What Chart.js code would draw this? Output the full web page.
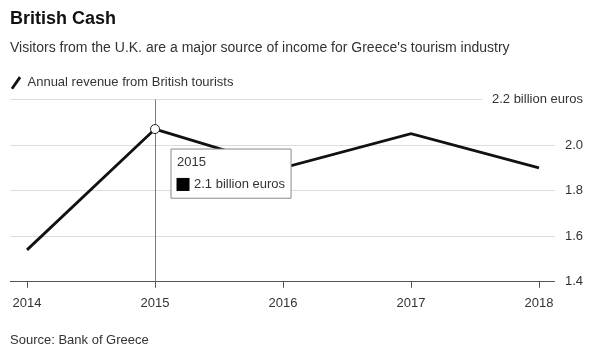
<!DOCTYPE html>
<html>
<head>
<meta charset="utf-8">
<script src="https://cdn.jsdelivr.net/npm/chart.js@4/dist/chart.umd.min.js"></script>
<style>
  html, body { margin: 0; padding: 0; background: #fff; }
  #wrap { width: 600px; height: 351px; }
</style>
</head>
<body>
<div id="wrap"><canvas id="myChart"></canvas></div>
<script>
const years = [2014, 2015, 2016, 2017, 2018];
const revenue = [1.54, 2.07, 1.90, 2.05, 1.90];
const yTicks = [1.4, 1.6, 1.8, 2.0, 2.2];
const seriesLabel = 'Annual revenue from British tourists';
const unitLabel = 'billion euros';
const highlightIndex = 1;

const FONT = "'Liberation Sans', Arial, sans-serif";
const TEXT = '#333';

// tooltip sits below and to the right of the hovered point, no caret
Chart.Tooltip.positioners.belowRight = function (items) {
    if (!items.length) return false;
    const el = items[0].element;
    return { x: el.x + 16, y: el.y + 20, xAlign: 'left', yAlign: 'top' };
};

// vertical hover line
const hoverLine = {
    id: 'hoverLine',
    beforeDatasetsDraw: (chart) => {
        const active = chart.tooltip.getActiveElements();
        if (!active.length) return;
        const { ctx, chartArea: { top, bottom } } = chart;
        const x = Math.round(active[0].element.x) + 0.5;
        ctx.save();
        ctx.strokeStyle = '#7a7a7a';
        ctx.lineWidth = 1;
        ctx.beginPath();
        ctx.moveTo(x, top);
        ctx.lineTo(x, bottom);
        ctx.stroke();
        ctx.restore();
    }
};

const ctx = document.getElementById('myChart');

const chart = new Chart(ctx, {
    type: 'line',
    data: {
        datasets: [{
            label: seriesLabel,
            data: years.map((y, i) => ({ x: y, y: revenue[i] })),
            borderColor: '#111',
            backgroundColor: '#111',
            borderWidth: 2.8,
            pointRadius: 0,
            pointRotation: -55,
            pointHoverRadius: 4.5,
            pointHoverBorderWidth: 1,
            pointHoverBackgroundColor: '#fff',
            pointHoverBorderColor: '#222',
            tension: 0
        }]
    },
    options: {
        responsive: true,
        maintainAspectRatio: false,
        animation: false,
        events: [],
        layout: { padding: { left: 10, right: 17, top: 0, bottom: 3 } },
        scales: {
            x: {
                type: 'linear',
                min: years[0] - 0.133,
                max: years[years.length - 1] + 0.125,
                afterBuildTicks: (axis) => {
                    axis.ticks = years.map(v => ({ value: v }));
                },
                grid: {
                    drawOnChartArea: false,
                    drawTicks: true,
                    tickLength: 6,
                    color: '#555'
                },
                border: { display: true, color: '#555', width: 1 },
                ticks: {
                    color: TEXT,
                    font: { family: FONT, size: 13 },
                    padding: 8,
                    maxRotation: 0,
                    callback: (v) => String(v)
                },
                title: {
                    display: true,
                    text: 'Source: Bank of Greece',
                    align: 'start',
                    color: TEXT,
                    font: { family: FONT, size: 13 },
                    padding: { top: 13, bottom: 0 }
                }
            },
            y: {
                position: 'right',
                min: yTicks[0],
                max: yTicks[yTicks.length - 1],
                afterBuildTicks: (axis) => {
                    axis.ticks = yTicks.map(v => ({ value: v }));
                },
                afterFit: (scale) => { scale.width = 28; },
                grid: { color: '#ddd', drawTicks: false },
                border: { display: false },
                ticks: {
                    color: TEXT,
                    font: { family: FONT, size: 13 },
                    mirror: true,
                    crossAlign: 'near',
                    padding: 28,
                    showLabelBackdrop: true,
                    backdropColor: '#fff',
                    backdropPadding: { left: 10, right: 0, top: 1, bottom: 1 },
                    callback: (v) => Math.abs(v - yTicks[yTicks.length - 1]) < 1e-6
                        ? v.toFixed(1) + ' ' + unitLabel
                        : v.toFixed(1)
                }
            }
        },
        plugins: {
            title: {
                display: true,
                text: 'British Cash',
                align: 'start',
                color: '#111',
                font: { family: FONT, size: 18, weight: 'bold' },
                padding: { top: 8, bottom: 4 }
            },
            subtitle: {
                display: true,
                text: "Visitors from the U.K. are a major source of income for Greece's tourism industry",
                align: 'start',
                color: TEXT,
                font: { family: FONT, size: 14 },
                padding: { top: 6, bottom: 19 }
            },
            legend: {
                display: true,
                align: 'start',
                labels: {
                    color: TEXT,
                    font: { family: FONT, size: 13 },
                    usePointStyle: true,
                    pointStyle: 'line',
                    boxWidth: 10,
                    boxHeight: 10,
                    padding: 1
                }
            },
            tooltip: {
                enabled: true,
                position: 'belowRight',
                backgroundColor: '#fff',
                borderColor: '#8a8a8a',
                borderWidth: 1,
                cornerRadius: 0,
                caretSize: 0,
                caretPadding: 0,
                padding: { left: 6, right: 6, top: 6, bottom: 6 },
                titleColor: TEXT,
                bodyColor: TEXT,
                titleFont: { family: FONT, size: 13, weight: 'normal' },
                bodyFont: { family: FONT, size: 13 },
                titleMarginBottom: 6,
                displayColors: true,
                boxWidth: 12,
                boxHeight: 12,
                boxPadding: 3,
                multiKeyBackground: '#000',
                callbacks: {
                    title: (items) => String(items[0].parsed.x),
                    label: (item) => item.parsed.y.toFixed(1) + ' ' + unitLabel,
                    labelColor: () => ({ borderColor: '#000', backgroundColor: '#000', borderWidth: 1 })
                }
            }
        }
    },
    plugins: [hoverLine]
});

const active = [{ datasetIndex: 0, index: highlightIndex }];
chart.setActiveElements(active);
chart.tooltip.setActiveElements(active, { x: 0, y: 0 });
chart.update();
</script>
</body>
</html>
